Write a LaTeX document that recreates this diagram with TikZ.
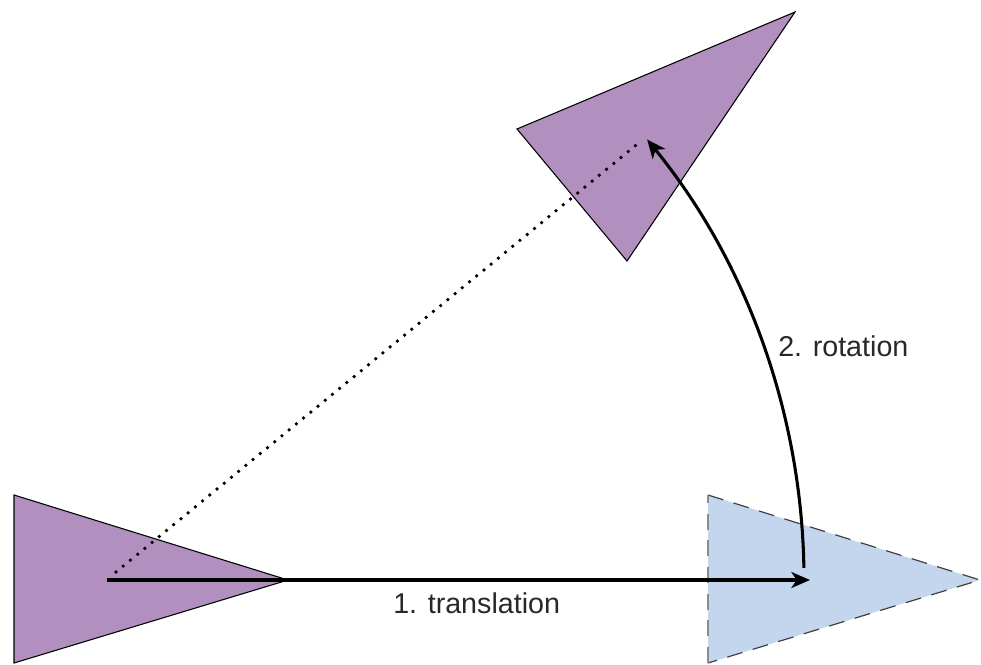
\documentclass[tikz,border=0pt]{standalone}
\usepackage{fontspec}
\setmainfont{Liberation Sans}
\usetikzlibrary{arrows.meta,calc}
\definecolor{purp}{RGB}{177,143,190}
\definecolor{lblue}{RGB}{196,214,238}
\definecolor{txt}{RGB}{40,40,40}
\tikzset{
  purptri/.style={fill=purp,draw=black,line width=0.8pt,line join=miter},
  movearrow/.style={line width=2.3pt,-{Stealth[length=14pt,width=12pt,inset=4pt]}},
  dotline/.style={line width=2.8pt,line cap=round,dash pattern=on 0pt off 7pt},
  lbl/.style={font=\fontsize{21.5}{25}\selectfont,text=txt,inner sep=0pt},
}
\begin{document}
\begin{tikzpicture}[x=0.75pt,y=-0.75pt]
\useasboundingbox (0,0) rectangle (981,664);
% original triangle
\filldraw[purptri] (14,495) -- (288,580) -- (14,663) -- cycle;
% target (translated) triangle
\fill[lblue] (708,495) -- (980,580) -- (708,663) -- cycle;
\draw[black!75,line width=0.9pt,dash pattern=on 12pt off 8pt] (708,495) -- (980,580) -- (708,663);
\draw[black!45,line width=0.9pt,dash pattern=on 12pt off 8pt] (708,663) -- (708,495);
% rotated triangle
\filldraw[purptri] (517,129) -- (795,12) -- (627,261) -- cycle;
% key points
\coordinate (p0) at (107,580);
\coordinate (p1) at (810,580);
\coordinate (p2) at (647,139);
\coordinate (d0) at (116,572);
\coordinate (d1) at (641,141);
% dotted line
\draw[dotline] (d0) -- (d1);
% translation
\draw[movearrow] (p0) -- (p1);
% rotation arc
\draw[movearrow] (p0) ++(-1:697) arc[start angle=-1,end angle=-39.2,radius=697];
% labels
\node[lbl,anchor=west] (t1) at (393,603) {1. translation};
\node[lbl,anchor=west] (t2) at (778,346) {2. rotation};
\end{tikzpicture}
\end{document}
